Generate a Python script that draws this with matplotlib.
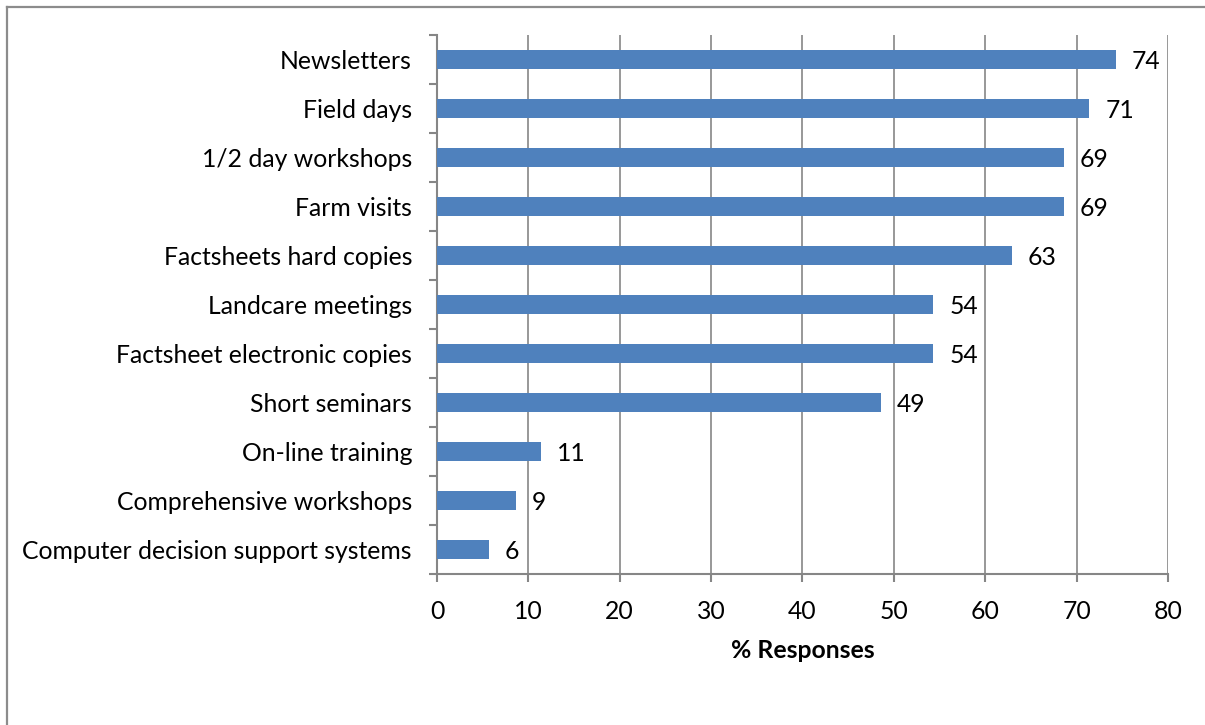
import matplotlib
matplotlib.use('Agg')
import matplotlib.pyplot as plt
from matplotlib.lines import Line2D
import numpy as np

# Survey results: share of respondents choosing each extension method (n = 35)
categories = [
    "Newsletters",
    "Field days",
    "1/2 day workshops",
    "Farm visits",
    "Factsheets hard copies",
    "Landcare meetings",
    "Factsheet electronic copies",
    "Short seminars",
    "On-line training",
    "Comprehensive workshops",
    "Computer decision support systems",
]
pct_responses = [74.3, 71.4, 68.6, 68.6, 62.9, 54.3, 54.3, 48.6, 11.4, 8.6, 5.7]
x_ticks = [0, 10, 20, 30, 40, 50, 60, 70, 80]

BAR_COLOR = '#4F81BD'
GRID_COLOR = '#868686'
FONT = 'Lato'
FS = 17.8

fig = plt.figure(figsize=(12.05, 7.25), dpi=100)
ax = fig.add_axes([437 / 1205, 1 - 574 / 725, (1168 - 437) / 1205, (574 - 35) / 725])

ypos = np.arange(len(categories))
ax.barh(ypos, pct_responses, height=0.4, color=BAR_COLOR, zorder=3)

for y, v in zip(ypos, pct_responses):
    ax.annotate(f"{v:.0f}", (v, y), xytext=(11.5, 0), textcoords='offset points',
                va='center_baseline', ha='left', fontsize=FS, family=FONT, color='black')

ax.set_xlim(0, 80)
ax.set_ylim(len(categories) - 0.5, -0.5)
ax.set_xticks(x_ticks)
ax.set_xticklabels([str(t) for t in x_ticks], fontsize=FS, family=FONT)
ax.set_yticks(ypos)
ax.set_yticklabels(categories, fontsize=FS, family=FONT, va='center_baseline')
ax.set_yticks(np.arange(len(categories) + 1) - 0.5, minor=True)

ax.tick_params(axis='y', which='major', length=0, pad=18)
ax.tick_params(axis='y', which='minor', length=5.5, width=1.5, color=GRID_COLOR, direction='out')
ax.tick_params(axis='x', which='major', length=5.5, width=1.5, color=GRID_COLOR, direction='out', pad=13)

ax.grid(axis='x', color=GRID_COLOR, linewidth=1.2, zorder=0)
ax.set_axisbelow(True)
for side in ('top', 'right'):
    ax.spines[side].set_visible(False)
for side in ('left', 'bottom'):
    ax.spines[side].set_color(GRID_COLOR)
    ax.spines[side].set_linewidth(1.5)

ax.set_xlabel('% Responses', fontsize=FS, family=FONT, fontweight='bold', labelpad=12)

# chart frame
fig.add_artist(Line2D([7 / 1205, 1.0], [1 - 7 / 725] * 2, color='#8c8c8c', linewidth=1.6))
fig.add_artist(Line2D([7 / 1205] * 2, [0.0, 1 - 7 / 725], color='#8c8c8c', linewidth=1.6))

fig.savefig('out.png', dpi=100)
